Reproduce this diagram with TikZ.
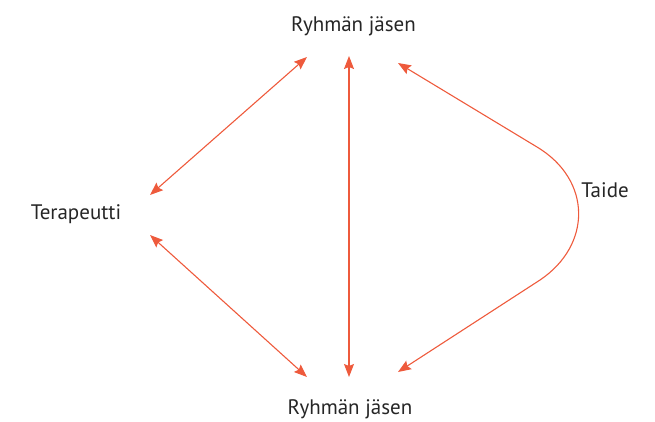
\documentclass[tikz,border=0pt]{standalone}
\usepackage{fontspec}
\setmainfont{PT Sans}
\usetikzlibrary{arrows.meta}
\definecolor{arr}{HTML}{EE5A3C}
\tikzset{
  lbl/.style={font=\fontsize{21}{24}\selectfont, text=black!85, inner sep=0pt, anchor=base},
  dbl/.style={draw=arr, line width=1.1pt, {Stealth[length=13pt,width=10pt,inset=2pt]}-{Stealth[length=13pt,width=10pt,inset=2pt]}}
}
\begin{document}
\begin{tikzpicture}[x=1pt,y=-1pt]
\useasboundingbox (0,0) rectangle (655,421);
\node[lbl] (top) at (353.5,31) {Ryhmän jäsen};
\node[lbl] (bot) at (350,414) {Ryhmän jäsen};
\node[lbl] (ter) at (76,219) {Terapeutti};
\node[lbl] (taide) at (605,197) {Taide};
\coordinate (tl) at (307,57);
\coordinate (tc) at (349,56);
\coordinate (tr) at (398,63);
\coordinate (bl) at (307,377);
\coordinate (bc) at (349,377);
\coordinate (br) at (398,372);
\coordinate (lu) at (150,195);
\coordinate (ld) at (150,235);
\coordinate (c1) at (537,147);
\coordinate (c2) at (540,280);
\draw[dbl] (lu) -- (tl);
\draw[dbl] (ld) -- (bl);
\draw[dbl] (tc) -- (bc);
\draw[dbl] (tr) -- (c1) .. controls (592,180) and (592,245) .. (c2) -- (br);
\end{tikzpicture}
\end{document}
